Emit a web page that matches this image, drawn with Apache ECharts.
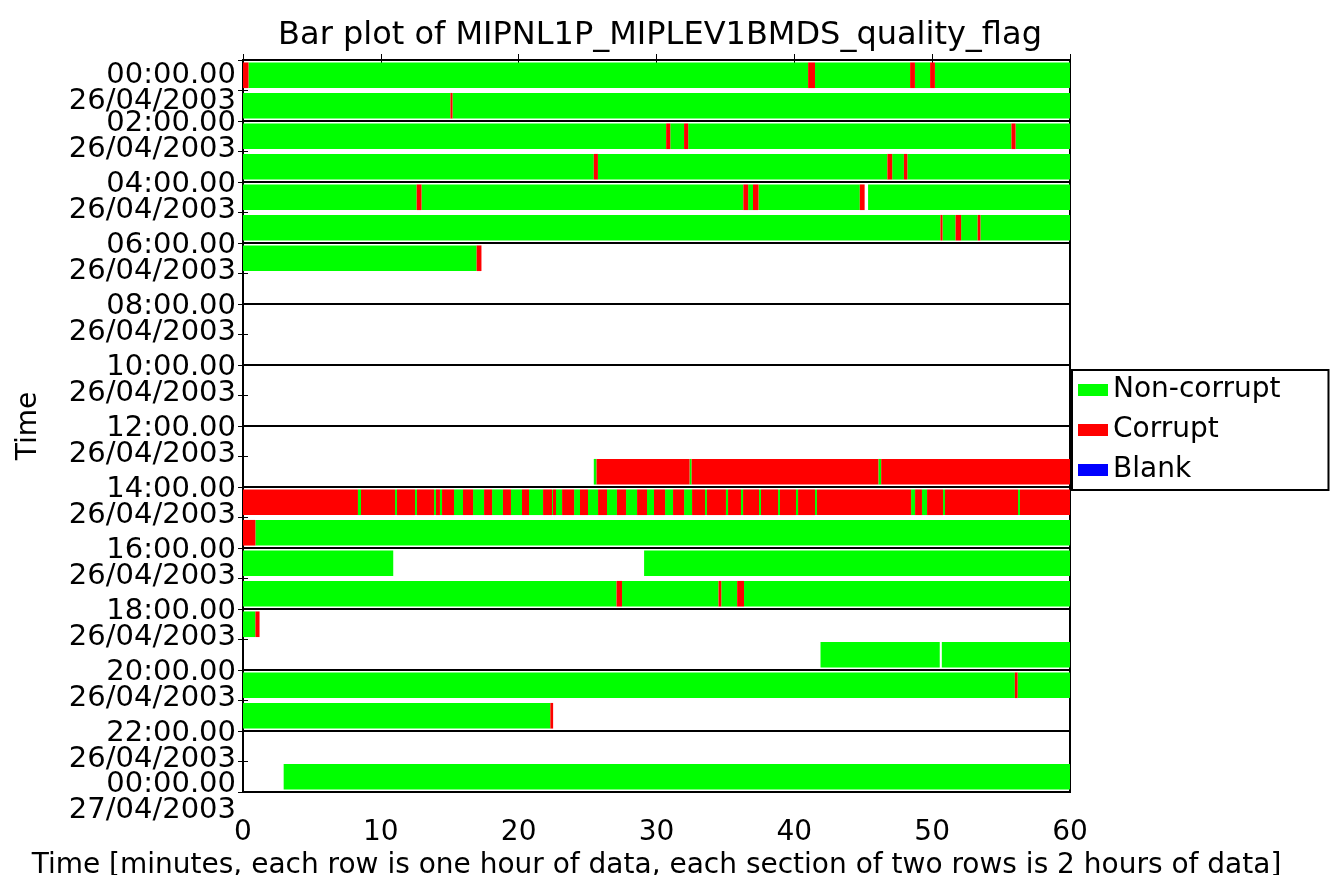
<!DOCTYPE html>
<html><head><meta charset="utf-8">
<script src="https://cdn.jsdelivr.net/npm/echarts@6/dist/echarts.min.js"></script>
<style>html,body{margin:0;padding:0;background:#fff}#c{width:1332px;height:875px}</style>
</head><body><div id="c"></div>
<script>
const FONT = 'DejaVu Sans';
const chartTitle = 'Bar plot of MIPNL1P_MIPLEV1BMDS_quality_flag';
const xName = 'Time [minutes, each row is one hour of data, each section of two rows is 2 hours of data]';
const yName = 'Time';
const seriesNames = ['Non-corrupt', 'Corrupt', 'Blank'];
const seriesColors = ['#00ff00', '#ff0000', '#0000ff'];
const sectionTimes = ['00:00.00','02:00.00','04:00.00','06:00.00','08:00.00','10:00.00','12:00.00','14:00.00','16:00.00','18:00.00','20:00.00','22:00.00','00:00.00'];
const sectionDates = ['26/04/2003','26/04/2003','26/04/2003','26/04/2003','26/04/2003','26/04/2003','26/04/2003','26/04/2003','26/04/2003','26/04/2003','26/04/2003','26/04/2003','27/04/2003'];

// [row (hour of day), start minute, end minute]
const nonCorrupt = [
  [0,0.4,41.0],[0,41.5,48.4],[0,48.75,49.85],[0,50.2,60],
  [1,0,15.05],[1,15.2,60],
  [2,0,30.7],[2,31.0,32.0],[2,32.3,55.75],[2,56.05,60],
  [3,0,25.45],[3,25.75,46.75],[3,47.1,47.95],[3,48.2,60],
  [4,0,12.6],[4,12.95,36.3],[4,36.65,37.0],[4,37.4,44.75],[4,45.35,60],
  [5,0,50.6],[5,50.75,51.7],[5,52.1,53.3],[5,53.5,60],
  [6,0,16.95],
  [13,25.45,25.65],[13,32.4,32.55],[13,46.1,46.3],
  [14,8.34,8.56],[14,11.03,11.17],[14,12.48,12.62],[14,13.86,14.0],[14,14.29,14.44],
  [14,15.31,15.96],[14,16.69,17.49],[14,18.07,18.86],[14,19.44,20.24],[14,20.75,21.77],
  [14,22.42,22.49],[14,22.71,23.15],[14,24.02,24.45],[14,25.03,25.76],[14,26.41,27.13],
  [14,27.79,28.59],[14,29.31,29.82],[14,30.62,31.2],[14,32.0,32.58],[14,33.52,33.66],
  [14,35.04,35.19],[14,36.13,36.28],[14,37.44,37.58],[14,38.82,38.96],[14,40.12,40.27],
  [14,41.5,41.64],[14,48.47,48.76],[14,49.26,49.63],[14,50.79,50.93],[14,56.23,56.37],
  [15,0.9,60],
  [16,0,10.9],[16,29.1,60],
  [17,0,27.1],[17,27.5,34.5],[17,34.7,35.85],[17,36.35,60],
  [18,0,0.9],
  [19,41.9,50.55],[19,50.7,60],
  [20,0,56.0],[20,56.2,60],
  [21,0,22.3],
  [23,2.95,60]
];
const corrupt = [
  [0,0,0.4],[0,41.0,41.5],[0,48.4,48.75],[0,49.85,50.2],
  [1,15.05,15.2],
  [2,30.7,31.0],[2,32.0,32.3],[2,55.75,56.05],
  [3,25.45,25.75],[3,46.75,47.1],[3,47.95,48.2],
  [4,12.6,12.95],[4,36.3,36.65],[4,37.0,37.4],[4,44.75,45.1],
  [5,50.6,50.75],[5,51.7,52.1],[5,53.3,53.5],
  [6,16.95,17.3],
  [13,25.65,32.4],[13,32.55,46.1],[13,46.3,60],
  [14,0,8.34],[14,8.56,11.03],[14,11.17,12.48],[14,12.62,13.86],[14,14.0,14.29],
  [14,14.44,15.31],[14,15.96,16.69],[14,17.49,18.07],[14,18.86,19.44],[14,20.24,20.75],
  [14,21.77,22.42],[14,22.49,22.71],[14,23.15,24.02],[14,24.45,25.03],[14,25.76,26.41],
  [14,27.13,27.79],[14,28.59,29.31],[14,29.82,30.62],[14,31.2,32.0],[14,32.58,33.52],
  [14,33.66,35.04],[14,35.19,36.13],[14,36.28,37.44],[14,37.58,38.82],[14,38.96,40.12],
  [14,40.27,41.5],[14,41.64,48.47],[14,48.76,49.26],[14,49.63,50.79],[14,50.93,56.23],
  [14,56.37,60],
  [15,0,0.9],
  [17,27.1,27.5],[17,34.5,34.7],[17,35.85,36.35],
  [18,0.9,1.2],
  [20,56.0,56.2],
  [21,22.3,22.5]
];
const blank = [];

const chart = echarts.init(document.getElementById('c'), null, {renderer: 'canvas'});

function renderSeg(params, api) {
  const row = api.value(0), s = api.value(1), e = api.value(2);
  const p0 = api.coord([s, row + 0.5]);
  const p1 = api.coord([e, row + 0.5]);
  const h = Math.abs(api.size([0, 1])[1]) * 0.84;
  const cs = params.coordSys;
  const shape = echarts.graphic.clipRectByRect(
    {x: p0[0], y: p0[1] - h / 2, width: p1[0] - p0[0], height: h},
    {x: cs.x, y: cs.y, width: cs.width, height: cs.height});
  return shape && {type: 'rect', shape: shape, style: {fill: api.visual('color')}};
}

const lastIdx = sectionTimes.length - 1;
// inner section labels (axis A)
function yLabelMid(v) {
  const i = Math.round(v / 2);
  if (i === 0 || i === lastIdx) return '';
  return '{g| }\n{t|' + sectionTimes[i] + '}\n{t|' + sectionDates[i] + '}';
}
// first and last labels (axis B)
function yLabelEnds(v) {
  const i = Math.round(v / 2);
  if (i === 0) return '{g0| }\n{t|' + sectionTimes[i] + '}\n{t|' + sectionDates[i] + '}';
  if (i === lastIdx) return '{g1| }\n{t|' + sectionTimes[i] + '}\n{t|' + sectionDates[i] + '}';
  return '';
}

const txt = {fontFamily: FONT, fontSize: 28, color: '#000'};
const labelRich = {
  t: {fontFamily: FONT, fontSize: 29, color: '#000', lineHeight: 26, align: 'right'},
  g: {lineHeight: 31, fontSize: 10},
  g0: {lineHeight: 57, fontSize: 10},
  g1: {lineHeight: 11, fontSize: 10}
};

const makeSeries = (name, data, color) => ({
  type: 'custom', name: name, data: data,
  renderItem: renderSeg,
  itemStyle: {color: color},
  encode: {x: [1, 2], y: 0},
  silent: true, animation: false
});

const yBase = {type: 'value', min: 0, max: 24, interval: 2, inverse: true};

chart.setOption({
  animation: false,
  backgroundColor: '#fff',
  title: {
    text: chartTitle, left: 655, top: 15, textAlign: 'center',
    textStyle: {fontFamily: FONT, fontSize: 32, fontWeight: 'normal', color: '#000'}
  },
  legend: {
    orient: 'vertical', left: 1072, top: 370,
    itemWidth: 30, itemHeight: 12, itemGap: 10, icon: 'rect',
    padding: [5, 48, 5, 6],
    borderColor: '#000', borderWidth: 2, backgroundColor: '#fff',
    textStyle: Object.assign({lineHeight: 30}, txt),
    data: seriesNames
  },
  grid: {left: 243, top: 60, width: 827, height: 732, containLabel: false, outerBoundsMode: 'none',
         show: true, borderColor: '#000', borderWidth: 2, backgroundColor: '#fff'},
  xAxis: [{
    type: 'value', min: 0, max: 60, interval: 10, position: 'bottom',
    name: xName, nameLocation: 'middle', nameGap: 51,
    nameTextStyle: txt,
    axisLine: {show: true, lineStyle: {color: '#000', width: 2}},
    axisTick: {show: true, inside: true, length: 6, lineStyle: {color: '#000'}},
    axisLabel: Object.assign({margin: 27, showMinLabel: true, showMaxLabel: true, hideOverlap: false}, txt),
    splitLine: {show: false}
  }, {
    type: 'value', min: 0, max: 60, interval: 10, position: 'top',
    axisLine: {show: true, lineStyle: {color: '#000', width: 2}},
    axisTick: {show: true, inside: true, length: 6, lineStyle: {color: '#000'}},
    axisLabel: {show: false}, splitLine: {show: false}
  }],
  yAxis: [Object.assign({}, yBase, {
    position: 'left',
    name: yName, nameLocation: 'middle', nameGap: 200, nameRotate: 90,
    nameTextStyle: txt,
    axisLine: {show: true, lineStyle: {color: '#000', width: 2}},
    axisTick: {show: true, inside: true, length: 5, lineStyle: {color: '#000'}},
    minorTick: {show: true, splitNumber: 2, length: 5, lineStyle: {color: '#000', width: 1}},
    minorSplitLine: {show: false},
    splitLine: {show: true, lineStyle: {color: '#000', width: 2}},
    axisLabel: {formatter: yLabelMid, margin: 7, showMinLabel: true, showMaxLabel: true, hideOverlap: false, rich: labelRich}
  }), Object.assign({}, yBase, {
    position: 'right',
    axisLine: {show: true, lineStyle: {color: '#000', width: 2}},
    axisTick: {show: true, inside: true, length: 5, lineStyle: {color: '#000'}},
    minorTick: {show: true, splitNumber: 2, length: 5, lineStyle: {color: '#000', width: 1}},
    axisLabel: {show: false}, splitLine: {show: false}
  }), Object.assign({}, yBase, {
    position: 'left', offset: 0,
    axisLine: {show: false}, axisTick: {show: false}, splitLine: {show: false},
    axisLabel: {formatter: yLabelEnds, margin: 7, showMinLabel: true, showMaxLabel: true, hideOverlap: false, rich: labelRich}
  })],
  series: [
    makeSeries(seriesNames[0], nonCorrupt, seriesColors[0]),
    makeSeries(seriesNames[1], corrupt, seriesColors[1]),
    makeSeries(seriesNames[2], blank, seriesColors[2])
  ]
});
</script></body></html>
